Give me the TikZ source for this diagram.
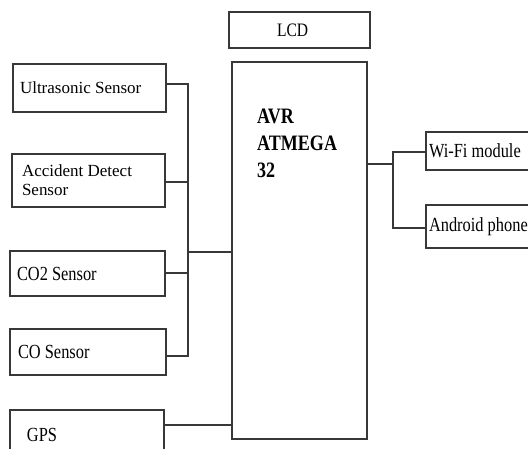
\documentclass[tikz,border=0pt]{standalone}
\usepackage{fontspec}
\setmainfont{Liberation Serif}
\newfontfamily\narrowfont[FakeStretch=0.82]{Liberation Serif}
\usetikzlibrary{positioning}

\begin{document}
\begin{tikzpicture}[x=1pt, y=-1pt,
	box/.style={draw=black!78, line width=1.2pt, rectangle, inner sep=0pt},
	wide/.style={font=\fontsize{17}{19}\selectfont, align=flush left},
	narrow/.style={font=\narrowfont\fontsize{20}{22}\selectfont, align=flush left},
	wire/.style={draw=black!78, line width=1.2pt}]

\useasboundingbox (0,0) rectangle (528,448);
\clip (0,0) rectangle (528,448);

\node[box, wide, minimum width=153pt, minimum height=48pt, text width=139pt] (ultra) at (89.5,88) {Ultrasonic Sensor};
\node[box, wide, minimum width=153pt, minimum height=53pt, text width=133pt] (accident) at (88.5,180.5) {Accident Detect\\Sensor};
\node[box, narrow, minimum width=155pt, minimum height=45pt, text width=141pt] (cotwo) at (87.5,273.5) {CO2 Sensor};
\node[box, narrow, minimum width=156pt, minimum height=46pt, text width=140pt] (co) at (88,352) {CO Sensor};
\node[box, narrow, minimum width=154pt, minimum height=50pt, text width=120pt] (gps) at (87,435) {GPS};

\node[box, font=\narrowfont\fontsize{19}{21}\selectfont, minimum width=141pt, minimum height=36pt, text width=141pt, align=flush left] (lcd) at (299.5,30) {\hspace*{48pt}LCD};
\node[box, minimum width=135pt, minimum height=377pt] (avr) at (299.5,250.5) {};
\node[font=\narrowfont\bfseries\fontsize{22}{27}\selectfont, align=flush left, anchor=north west, inner sep=0pt] (avrtext) at (257,109) {AVR\\ATMEGA\\32};

\node[box, narrow, minimum width=130pt, minimum height=38pt, text width=124pt] (wifi) at (491,151) {Wi-Fi module};
\node[box, narrow, minimum width=130pt, minimum height=43pt, text width=124pt] (android) at (491,226.5) {Android phone};

\coordinate (bus) at (188,252);
\coordinate (split) at (393,164);

\draw[wire] ([yshift=4pt]ultra.east) -| (bus);
\draw[wire] ([yshift=-1.5pt]accident.east) -| (bus);
\draw[wire] ([yshift=0.5pt]cotwo.east) -| (bus);
\draw[wire] ([yshift=-4pt]co.east) -| (bus);
\draw[wire] (bus) -- (bus -| avr.west);
\draw[wire] ([yshift=10pt]gps.east) -- ([yshift=10pt]gps.east -| avr.west);

\draw[wire] (avr.east |- split) -- (split);
\draw[wire] (split) |- ([yshift=-1pt]wifi.west);
\draw[wire] (split) |- ([yshift=-1.5pt]android.west);

\end{tikzpicture}
\end{document}
